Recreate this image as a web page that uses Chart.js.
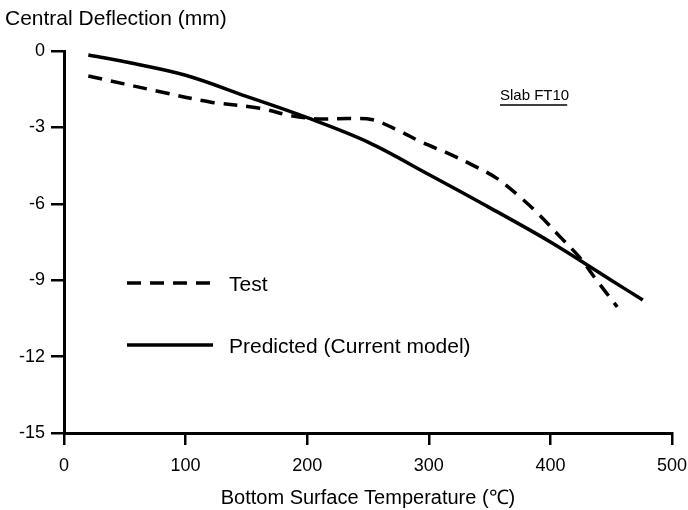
<!DOCTYPE html>
<html>
<head>
<meta charset="utf-8">
<script src="https://cdn.jsdelivr.net/npm/chart.js@4"></script>
<style>
  html, body { margin: 0; padding: 0; background: #fff; }
  #wrap { width: 688px; height: 510px; }
</style>
</head>
<body>
<div id="wrap"><canvas id="chart" width="688" height="510"></canvas></div>
<script>
// data
const testTemp = [20, 79, 120, 161, 188, 210, 235, 254, 274, 295, 315, 336, 356, 375, 391, 408, 424, 438, 455];
const testDefl = [-0.98, -1.6, -2.0, -2.25, -2.55, -2.67, -2.65, -2.7, -3.1, -3.6, -4.0, -4.48, -5.0, -5.73, -6.44, -7.3, -8.1, -9.0, -10.05];
const predTemp = [20, 50, 100, 150, 200, 250, 300, 350, 400, 450, 476];
const predDefl = [-0.16, -0.42, -0.95, -1.78, -2.62, -3.58, -4.85, -6.15, -7.5, -9.0, -9.78];
const xTicks = [0, 100, 200, 300, 400, 500];
const yTicks = [0, -3, -6, -9, -12, -15];

const FONT = "'Liberation Sans', Arial, sans-serif";

const toPts = (xs, ys) => xs.map((x, i) => ({ x: x, y: ys[i] }));

// draws y title, slab label and the in-plot legend
const decorations = {
  id: 'decorations',
  afterDraw(chart) {
    const ctx = chart.ctx;
    ctx.save();
    ctx.fillStyle = '#000';
    ctx.strokeStyle = '#000';
    ctx.textBaseline = 'middle';
    ctx.textAlign = 'left';
    ctx.font = '21px ' + FONT;
    ctx.fillText('Central Deflection (mm)', 5, 19);

    // slab label, underlined
    ctx.font = '15px ' + FONT;
    ctx.fillText('Slab FT10', 500, 96);
    const w = ctx.measureText('Slab FT10').width;
    ctx.lineWidth = 1.5;
    ctx.beginPath();
    ctx.moveTo(500, 105);
    ctx.lineTo(500 + w - 2, 105);
    ctx.stroke();

    // legend
    ctx.lineWidth = 3.5;
    ctx.setLineDash([14, 9]);
    ctx.beginPath();
    ctx.moveTo(127, 283);
    ctx.lineTo(213, 283);
    ctx.stroke();
    ctx.setLineDash([]);
    ctx.beginPath();
    ctx.moveTo(127, 345);
    ctx.lineTo(213, 345);
    ctx.stroke();
    ctx.font = '21px ' + FONT;
    ctx.fillText('Test', 229, 285);
    ctx.fillText('Predicted (Current model)', 229, 347);
    ctx.restore();
  }
};

new Chart(document.getElementById('chart'), {
  type: 'line',
  data: {
    datasets: [
      {
        label: 'Test',
        data: toPts(testTemp, testDefl),
        borderColor: '#000',
        borderWidth: 3.5,
        borderDash: [14, 9],
        pointRadius: 0,
        tension: 0.35,
        fill: false
      },
      {
        label: 'Predicted (Current model)',
        data: toPts(predTemp, predDefl),
        borderColor: '#000',
        borderWidth: 3.5,
        pointRadius: 0,
        tension: 0.35,
        fill: false
      }
    ]
  },
  options: {
    responsive: false,
    animation: false,
    layout: { padding: { top: 51, right: 0, left: 0, bottom: 0 } },
    plugins: {
      legend: { display: false },
      tooltip: { enabled: false }
    },
    scales: {
      x: {
        type: 'linear',
        min: 0,
        max: 500,
        afterBuildTicks: (s) => { s.ticks = xTicks.map(v => ({ value: v })); },
        afterFit: (s) => { s.height = 77; s.paddingRight = 16; },
        border: { display: true, color: '#000', width: 3 },
        grid: { drawOnChartArea: false, drawTicks: true, tickLength: 12, color: '#000', lineWidth: 2.5 },
        ticks: { color: '#000', font: { family: FONT, size: 18 }, padding: 10, maxRotation: 0 },
        title: {
          display: true,
          text: 'Bottom Surface Temperature (℃)',
          color: '#000',
          font: { family: FONT, size: 20 },
          padding: { top: 4, bottom: 0 }
        }
      },
      y: {
        type: 'linear',
        min: -15,
        max: 0,
        afterBuildTicks: (s) => { s.ticks = yTicks.map(v => ({ value: v })); },
        afterFit: (s) => { s.width = 64; },
        border: { display: true, color: '#000', width: 3 },
        grid: { drawOnChartArea: false, drawTicks: true, tickLength: 13, color: '#000', lineWidth: 2.5 },
        ticks: { color: '#000', font: { family: FONT, size: 18 }, padding: 6 }
      }
    }
  },
  plugins: [decorations]
});
</script>
</body>
</html>
